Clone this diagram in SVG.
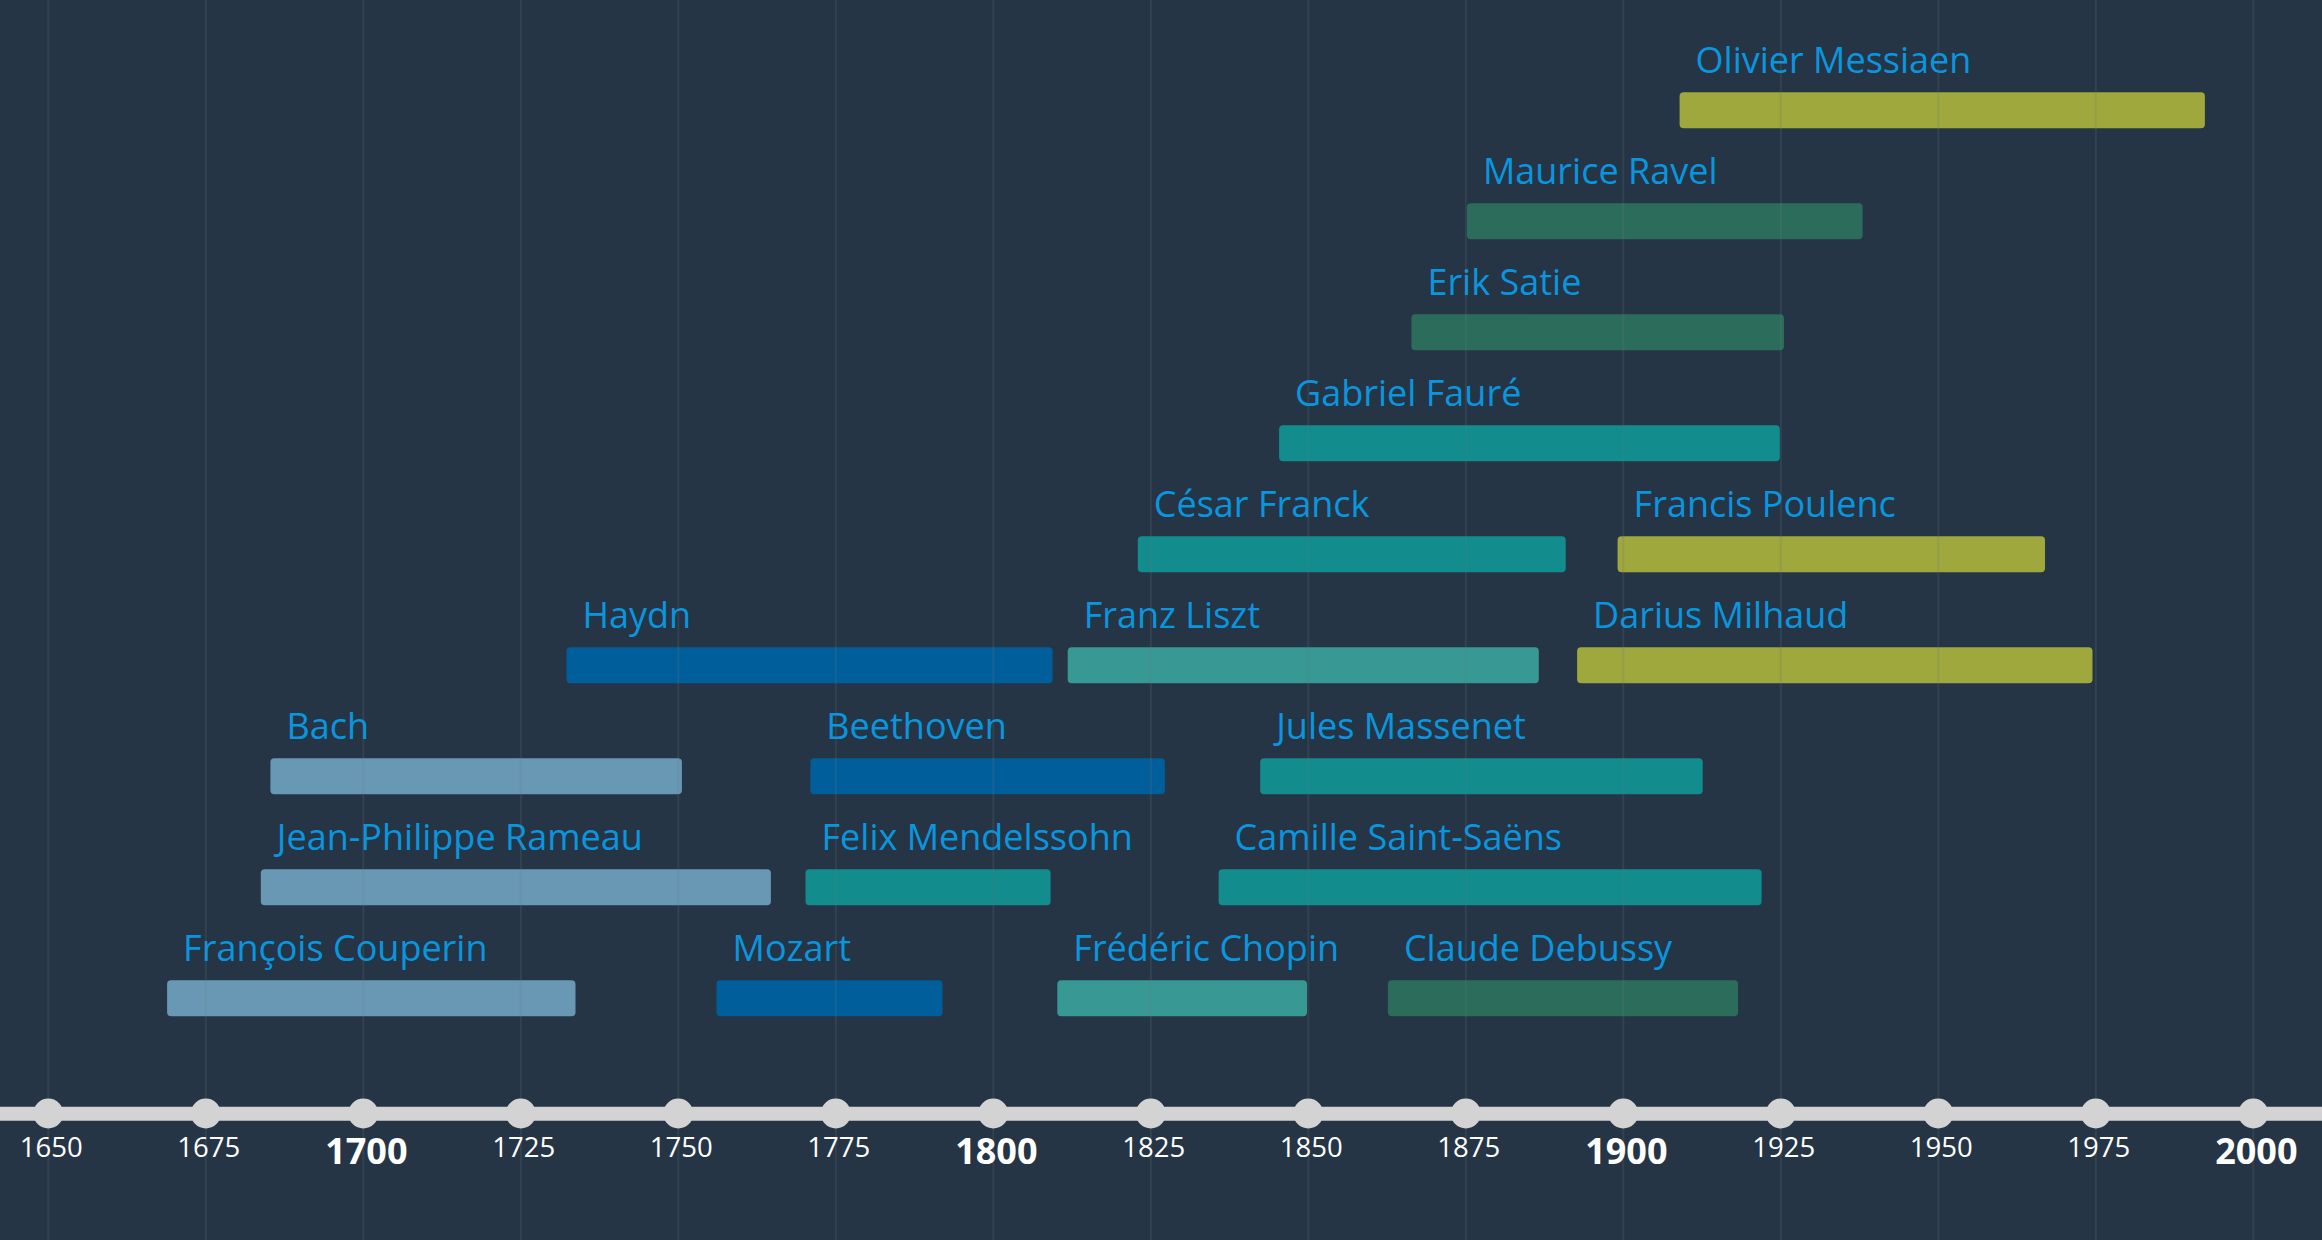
<svg xmlns="http://www.w3.org/2000/svg" width="2322" height="1240" viewBox="0 0 2322 1240">
<style>
.bg{fill:#253545}
.grid line{stroke:#6b7682;stroke-width:2;stroke-opacity:0.2}
.bar{rx:4;ry:4}
.baroque{fill:#6898b4}
.classical{fill:#005f9b}
.romantic{fill:#128c8c}
.romantic2{fill:#389893}
.impress{fill:#2b6d5a}
.modern{fill:#9ea83c}
.lbl{font-family:"Open Sans","Liberation Sans",sans-serif;font-size:36px;fill:#0a96df}
.yr{font-family:"Open Sans","Liberation Sans",sans-serif;font-size:27.5px;fill:#ffffff;text-anchor:middle}
.yrb{font-family:"Open Sans","Liberation Sans",sans-serif;font-size:36px;font-weight:bold;fill:#ffffff;text-anchor:middle}
.axis{stroke:#d3d3d3;stroke-width:14}
.dot{fill:#d3d3d3}
</style>
<rect class="bg" x="0" y="0" width="2322" height="1240"/>
<g id="bars">
<g id="messiaen"><rect class="bar modern" x="1679.6" y="92.3" width="525.3" height="36"/><text class="lbl" x="1695.6" y="72.8">Olivier Messiaen</text></g>
<g id="ravel"><rect class="bar impress" x="1466.9" y="203.3" width="395.7" height="36"/><text class="lbl" x="1482.9" y="183.8">Maurice Ravel</text></g>
<g id="satie"><rect class="bar impress" x="1411.4" y="314.3" width="372.6" height="36"/><text class="lbl" x="1427.4" y="294.8">Erik Satie</text></g>
<g id="faure"><rect class="bar romantic" x="1279.1" y="425.3" width="500.7" height="36"/><text class="lbl" x="1295.1" y="405.8">Gabriel Fauré</text></g>
<g id="franck"><rect class="bar romantic" x="1137.8" y="536.3" width="427.9" height="36"/><text class="lbl" x="1153.8" y="516.8">César Franck</text></g>
<g id="poulenc"><rect class="bar modern" x="1617.6" y="536.3" width="427.4" height="36"/><text class="lbl" x="1633.6" y="516.8">Francis Poulenc</text></g>
<g id="haydn"><rect class="bar classical" x="566.5" y="647.3" width="486.1" height="36"/><text class="lbl" x="582.5" y="627.8">Haydn</text></g>
<g id="liszt"><rect class="bar romantic2" x="1067.7" y="647.3" width="471.1" height="36"/><text class="lbl" x="1083.7" y="627.8">Franz Liszt</text></g>
<g id="milhaud"><rect class="bar modern" x="1577.1" y="647.3" width="515.4" height="36"/><text class="lbl" x="1593.1" y="627.8">Darius Milhaud</text></g>
<g id="bach"><rect class="bar baroque" x="270.4" y="758.3" width="411.5" height="36"/><text class="lbl" x="286.4" y="738.8">Bach</text></g>
<g id="beethoven"><rect class="bar classical" x="810.3" y="758.3" width="354.6" height="36"/><text class="lbl" x="826.3" y="738.8">Beethoven</text></g>
<g id="massenet"><rect class="bar romantic" x="1260.2" y="758.3" width="442.5" height="36"/><text class="lbl" x="1276.2" y="738.8">Jules Massenet</text></g>
<g id="rameau"><rect class="bar baroque" x="260.8" y="869.3" width="510.1" height="36"/><text class="lbl" x="276.8" y="849.8">Jean-Philippe Rameau</text></g>
<g id="mendelssohn"><rect class="bar romantic" x="805.5" y="869.3" width="245.1" height="36"/><text class="lbl" x="821.5" y="849.8">Felix Mendelssohn</text></g>
<g id="saintsaens"><rect class="bar romantic" x="1218.6" y="869.3" width="543" height="36"/><text class="lbl" x="1234.6" y="849.8">Camille Saint-Saëns</text></g>
<g id="couperin"><rect class="bar baroque" x="167.1" y="980.3" width="408.4" height="36"/><text class="lbl" x="183.1" y="960.8">François Couperin</text></g>
<g id="mozart"><rect class="bar classical" x="716.5" y="980.3" width="226" height="36"/><text class="lbl" x="732.5" y="960.8">Mozart</text></g>
<g id="chopin"><rect class="bar romantic2" x="1057.3" y="980.3" width="249.7" height="36"/><text class="lbl" x="1073.3" y="960.8">Frédéric Chopin</text></g>
<g id="debussy"><rect class="bar impress" x="1387.9" y="980.3" width="350.2" height="36"/><text class="lbl" x="1403.9" y="960.8">Claude Debussy</text></g>
</g>
<g id="grid" class="grid">
<line x1="48.3" y1="0" x2="48.3" y2="1240"/>
<line x1="205.8" y1="0" x2="205.8" y2="1240"/>
<line x1="363.3" y1="0" x2="363.3" y2="1240"/>
<line x1="520.8" y1="0" x2="520.8" y2="1240"/>
<line x1="678.3" y1="0" x2="678.3" y2="1240"/>
<line x1="835.8" y1="0" x2="835.8" y2="1240"/>
<line x1="993.3" y1="0" x2="993.3" y2="1240"/>
<line x1="1150.8" y1="0" x2="1150.8" y2="1240"/>
<line x1="1308.3" y1="0" x2="1308.3" y2="1240"/>
<line x1="1465.8" y1="0" x2="1465.8" y2="1240"/>
<line x1="1623.3" y1="0" x2="1623.3" y2="1240"/>
<line x1="1780.8" y1="0" x2="1780.8" y2="1240"/>
<line x1="1938.3" y1="0" x2="1938.3" y2="1240"/>
<line x1="2095.8" y1="0" x2="2095.8" y2="1240"/>
<line x1="2253.3" y1="0" x2="2253.3" y2="1240"/>
</g>
<g id="axis">
<line class="axis" x1="0" y1="1113.7" x2="2322" y2="1113.7"/>
<circle class="dot" cx="48.3" cy="1113.5" r="15"/>
<circle class="dot" cx="205.8" cy="1113.5" r="15"/>
<circle class="dot" cx="363.3" cy="1113.5" r="15"/>
<circle class="dot" cx="520.8" cy="1113.5" r="15"/>
<circle class="dot" cx="678.3" cy="1113.5" r="15"/>
<circle class="dot" cx="835.8" cy="1113.5" r="15"/>
<circle class="dot" cx="993.3" cy="1113.5" r="15"/>
<circle class="dot" cx="1150.8" cy="1113.5" r="15"/>
<circle class="dot" cx="1308.3" cy="1113.5" r="15"/>
<circle class="dot" cx="1465.8" cy="1113.5" r="15"/>
<circle class="dot" cx="1623.3" cy="1113.5" r="15"/>
<circle class="dot" cx="1780.8" cy="1113.5" r="15"/>
<circle class="dot" cx="1938.3" cy="1113.5" r="15"/>
<circle class="dot" cx="2095.8" cy="1113.5" r="15"/>
<circle class="dot" cx="2253.3" cy="1113.5" r="15"/>
<text class="yr" x="51.3" y="1157">1650</text>
<text class="yr" x="208.8" y="1157">1675</text>
<text class="yrb" x="366.3" y="1164.3">1700</text>
<text class="yr" x="523.8" y="1157">1725</text>
<text class="yr" x="681.3" y="1157">1750</text>
<text class="yr" x="838.8" y="1157">1775</text>
<text class="yrb" x="996.3" y="1164.3">1800</text>
<text class="yr" x="1153.8" y="1157">1825</text>
<text class="yr" x="1311.3" y="1157">1850</text>
<text class="yr" x="1468.8" y="1157">1875</text>
<text class="yrb" x="1626.3" y="1164.3">1900</text>
<text class="yr" x="1783.8" y="1157">1925</text>
<text class="yr" x="1941.3" y="1157">1950</text>
<text class="yr" x="2098.8" y="1157">1975</text>
<text class="yrb" x="2256.3" y="1164.3">2000</text>
</g>
</svg>
